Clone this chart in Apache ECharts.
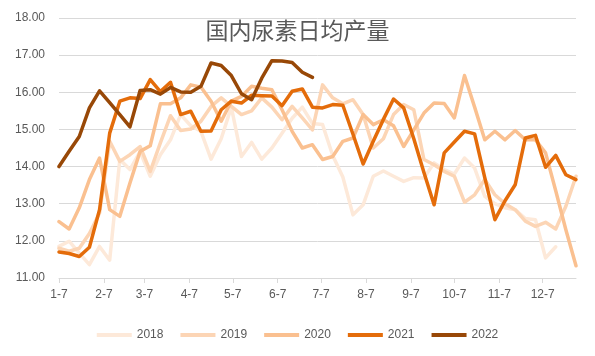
<!DOCTYPE html>
<html>
<head>
<meta charset="utf-8">
<script src="https://cdn.jsdelivr.net/npm/echarts@6/dist/echarts.min.js"></script>
<style>
html,body{margin:0;padding:0;background:#fff;}
#chart{width:595px;height:356px;}
</style>
</head>
<body>
<div id="chart"></div>
<script>
// Month tick positions (days after Jan 7) and their labels
const tickDays = [0, 31, 59, 90, 120, 151, 181, 212, 243, 273, 304, 334];
const tickLabels = ['1-7','2-7','3-7','4-7','5-7','6-7','7-7','8-7','9-7','10-7','11-7','12-7'];
// weekly observations: week index -> day offset
const weekCount = 52;
const weekDays = Array.from({length: weekCount}, (_, i) => i * 7);

const years = ['2018', '2019', '2020', '2021', '2022'];
const colors = ['#FDE9D9', '#FCD5B5', '#FAC090', '#E46C0A', '#984807'];

const v2018 = [11.85,11.99,11.67,11.36,11.85,11.48,14.19,13.92,14.40,13.74,14.32,14.72,15.40,15.10,14.95,14.20,14.75,15.60,14.27,14.65,14.20,14.50,14.90,15.30,15.60,15.16,15.13,14.30,13.72,12.70,12.97,13.74,13.88,13.74,13.60,13.70,13.69,14.10,13.92,13.80,14.23,13.96,13.20,13.00,12.89,12.84,12.60,12.57,11.54,11.84];
const v2019 = [11.80,11.72,11.80,12.20,12.75,14.68,14.14,14.32,14.54,13.87,14.64,15.37,14.97,15.01,15.22,15.62,15.85,15.62,15.40,15.50,15.85,15.60,15.26,15.62,15.31,14.99,16.20,15.85,15.69,15.80,15.40,14.50,14.75,15.40,15.67,15.53,14.19,14.05,13.87,13.74,13.04,13.24,13.65,13.24,13.00,12.84,12.53,12.39,12.50,12.32,12.93,13.74];
const v2020 = [12.52,12.32,12.89,13.65,14.23,12.84,12.66,13.56,14.41,14.56,15.69,15.69,15.85,16.20,16.14,15.76,15.22,15.76,15.89,16.16,16.11,16.07,15.53,14.95,14.50,14.59,14.19,14.27,14.68,14.77,15.40,15.13,15.26,15.10,14.54,14.99,15.44,15.71,15.70,15.31,16.45,15.60,14.72,14.95,14.72,14.97,14.72,14.72,14.37,13.35,12.30,11.33];
const v2021 = [11.70,11.66,11.58,11.83,12.84,14.90,15.76,15.85,15.83,16.34,16.02,16.27,15.40,15.49,14.95,14.96,15.53,15.76,15.71,15.92,15.91,15.90,15.64,16.03,16.09,15.60,15.58,15.67,15.65,14.87,14.07,14.68,15.27,15.82,15.58,14.75,13.84,12.97,14.37,14.66,14.95,14.88,13.70,12.57,13.08,13.51,14.77,14.84,13.98,14.30,13.78,13.65];
const v2022 = [14.00,14.41,14.81,15.58,16.04,15.72,15.40,15.07,16.05,16.07,15.95,16.13,16.01,16.00,16.16,16.79,16.72,16.45,15.96,15.80,16.38,16.85,16.84,16.80,16.54,16.40];
const valuesByYear = [v2018, v2019, v2020, v2021, v2022];

const yTicks = [11, 12, 13, 14, 15, 16, 17, 18];

const chart = echarts.init(document.getElementById('chart'), null, {renderer: 'canvas'});
const font = 'Liberation Sans, Arial, sans-serif';

const series = years.map((y, k) => ({
  name: y,
  type: 'line',
  data: valuesByYear[k].map((v, i) => [weekDays[i], v]),
  showSymbol: false,
  symbol: 'none',
  lineStyle: {color: colors[k], width: 3.5, join: 'round', cap: 'round'},
  itemStyle: {color: colors[k]},
  z: 2 + k
}));

chart.setOption({
  animation: false,
  backgroundColor: '#ffffff',
  title: {
    text: '国内尿素日均产量',
    left: 'center',
    top: 14,
    textStyle: {fontFamily: 'Noto Sans CJK SC', fontWeight: 'normal', fontSize: 23, color: '#595959'}
  },
  grid: {left: 59, right: 19, top: 18, bottom: 78, containLabel: false},
  legend: {
    data: years,
    left: 'center',
    top: 324,
    icon: 'rect',
    itemWidth: 35,
    itemHeight: 4,
    itemGap: 17,
    textStyle: {color: '#595959', fontSize: 12, fontFamily: font}
  },
  xAxis: {
    type: 'value',
    min: 0,
    max: 357,
    axisLine: {show: true, lineStyle: {color: '#D9D9D9', width: 1}},
    axisTick: {show: true, length: 5, lineStyle: {color: '#D9D9D9'}, customValues: tickDays},
    axisLabel: {
      customValues: tickDays,
      margin: 11,
      color: '#595959',
      fontSize: 12,
      fontFamily: font,
      formatter: v => tickLabels[tickDays.indexOf(v)] || ''
    },
    splitLine: {show: false}
  },
  yAxis: {
    type: 'value',
    min: yTicks[0],
    max: yTicks[yTicks.length - 1],
    interval: 1,
    axisLine: {show: false},
    axisTick: {show: false},
    axisLabel: {margin: 14, color: '#595959', fontSize: 12, fontFamily: font, formatter: v => v.toFixed(2)},
    splitLine: {lineStyle: {color: '#D9D9D9', width: 1}}
  },
  series: series
});
</script>
</body>
</html>
